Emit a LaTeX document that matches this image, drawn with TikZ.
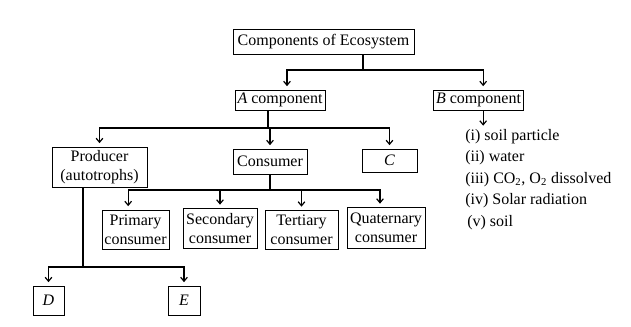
\documentclass[tikz,border=0pt]{standalone}
\usepackage{fontspec}
\setmainfont{Liberation Serif}
\usetikzlibrary{arrows.meta,positioning}

\begin{document}
\begin{tikzpicture}[x=0.75pt,y=-0.75pt,font=\fontsize{12}{14}\selectfont,
  box/.style={draw,line width=0.75pt,inner sep=1pt,align=center},
  conn/.style={line width=0.9pt},
  arr/.style={conn,-{Straight Barb[length=3pt,width=5pt]},shorten >=2.5pt}]
  \useasboundingbox (0,0) rectangle (631,326);
  % top levels
  \node[box,minimum width=135.75pt,minimum height=18.75pt] (eco) at (323.5,41.5) {Components of Ecosystem};
  \node[box,minimum width=67.5pt,minimum height=15pt] (acomp) at (280,100) {\textit{A} component};
  \node[box,minimum width=68pt,minimum height=15pt] (bcomp) at (478.5,100) {\textit{B} component};
  \node[box,minimum width=71.25pt,minimum height=30pt] (prod) at (99.5,167) {Producer\\(autotrophs)};
  \node[box,minimum width=55.5pt,minimum height=18.75pt] (cons) at (270,161.5) {Consumer};
  \node[box,minimum width=41.25pt,minimum height=17.25pt] (cbox) at (389.5,160.5) {\textit{C}};
  % consumers
  \node[box,minimum width=50.25pt,minimum height=29.25pt] (prim) at (135.5,229.5) {Primary\\consumer};
  \node[box,minimum width=55.5pt,minimum height=30pt] (sec) at (220,228.5) {Secondary\\consumer};
  \node[box,minimum width=54.75pt,minimum height=29.25pt] (ter) at (301.5,230) {Tertiary\\consumer};
  \node[box,minimum width=58.5pt,minimum height=30.75pt] (quat) at (386,228) {Quaternary\\consumer};
  \node[box,minimum width=23.25pt,minimum height=21.75pt] (dbox) at (48.5,300.5) {\textit{D}};
  \node[box,minimum width=24pt,minimum height=21.75pt] (ebox) at (184,300.5) {\textit{E}};
  % abiotic list
  \node[anchor=north west,inner sep=0pt,align=left,font=\fontsize{12}{16.1}\selectfont] (blist) at (465,129)
    {(i) soil particle\\ (ii) water\\ (iii) CO\textsubscript{2}, O\textsubscript{2} dissolved\\
     (iv) Solar radiation\\ \hspace*{1.5pt}(v) soil};

  \coordinate (ja) at (363,70);
  \coordinate (jb) at (268,128);
  \coordinate (jc) at (270,190);
  \coordinate (jd) at (83,267);
  \draw[conn] (eco.south -| ja) -- (ja);
  \draw[arr] (ja) -| ([xshift=5.25pt]acomp.north);
  \draw[arr] (ja) -| ([xshift=3.5pt]bcomp.north);
  \draw[arr] ([xshift=3.5pt]bcomp.south) -- ([xshift=3.5pt]bcomp.south |- blist.north);
  \draw[conn] (acomp.south -| jb) -- (jb);
  \draw[arr] (jb) -| (prod.north);
  \draw[arr] (jb) -| (cons.north);
  \draw[arr] (jb) -| (cbox.north);
  \draw[conn] (cons.south) -- (jc);
  \draw[arr] (jc) -| ([xshift=-5.5pt]prim.north);
  \draw[arr] (jc) -| (sec.north);
  \draw[arr] (jc) -| (ter.north);
  \draw[arr] (jc) -| ([xshift=-4.5pt]quat.north);
  \draw[conn] (prod.south -| jd) -- (jd);
  \draw[arr] (jd) -| (dbox.north);
  \draw[arr] (jd) -| (ebox.north);
\end{tikzpicture}
\end{document}
